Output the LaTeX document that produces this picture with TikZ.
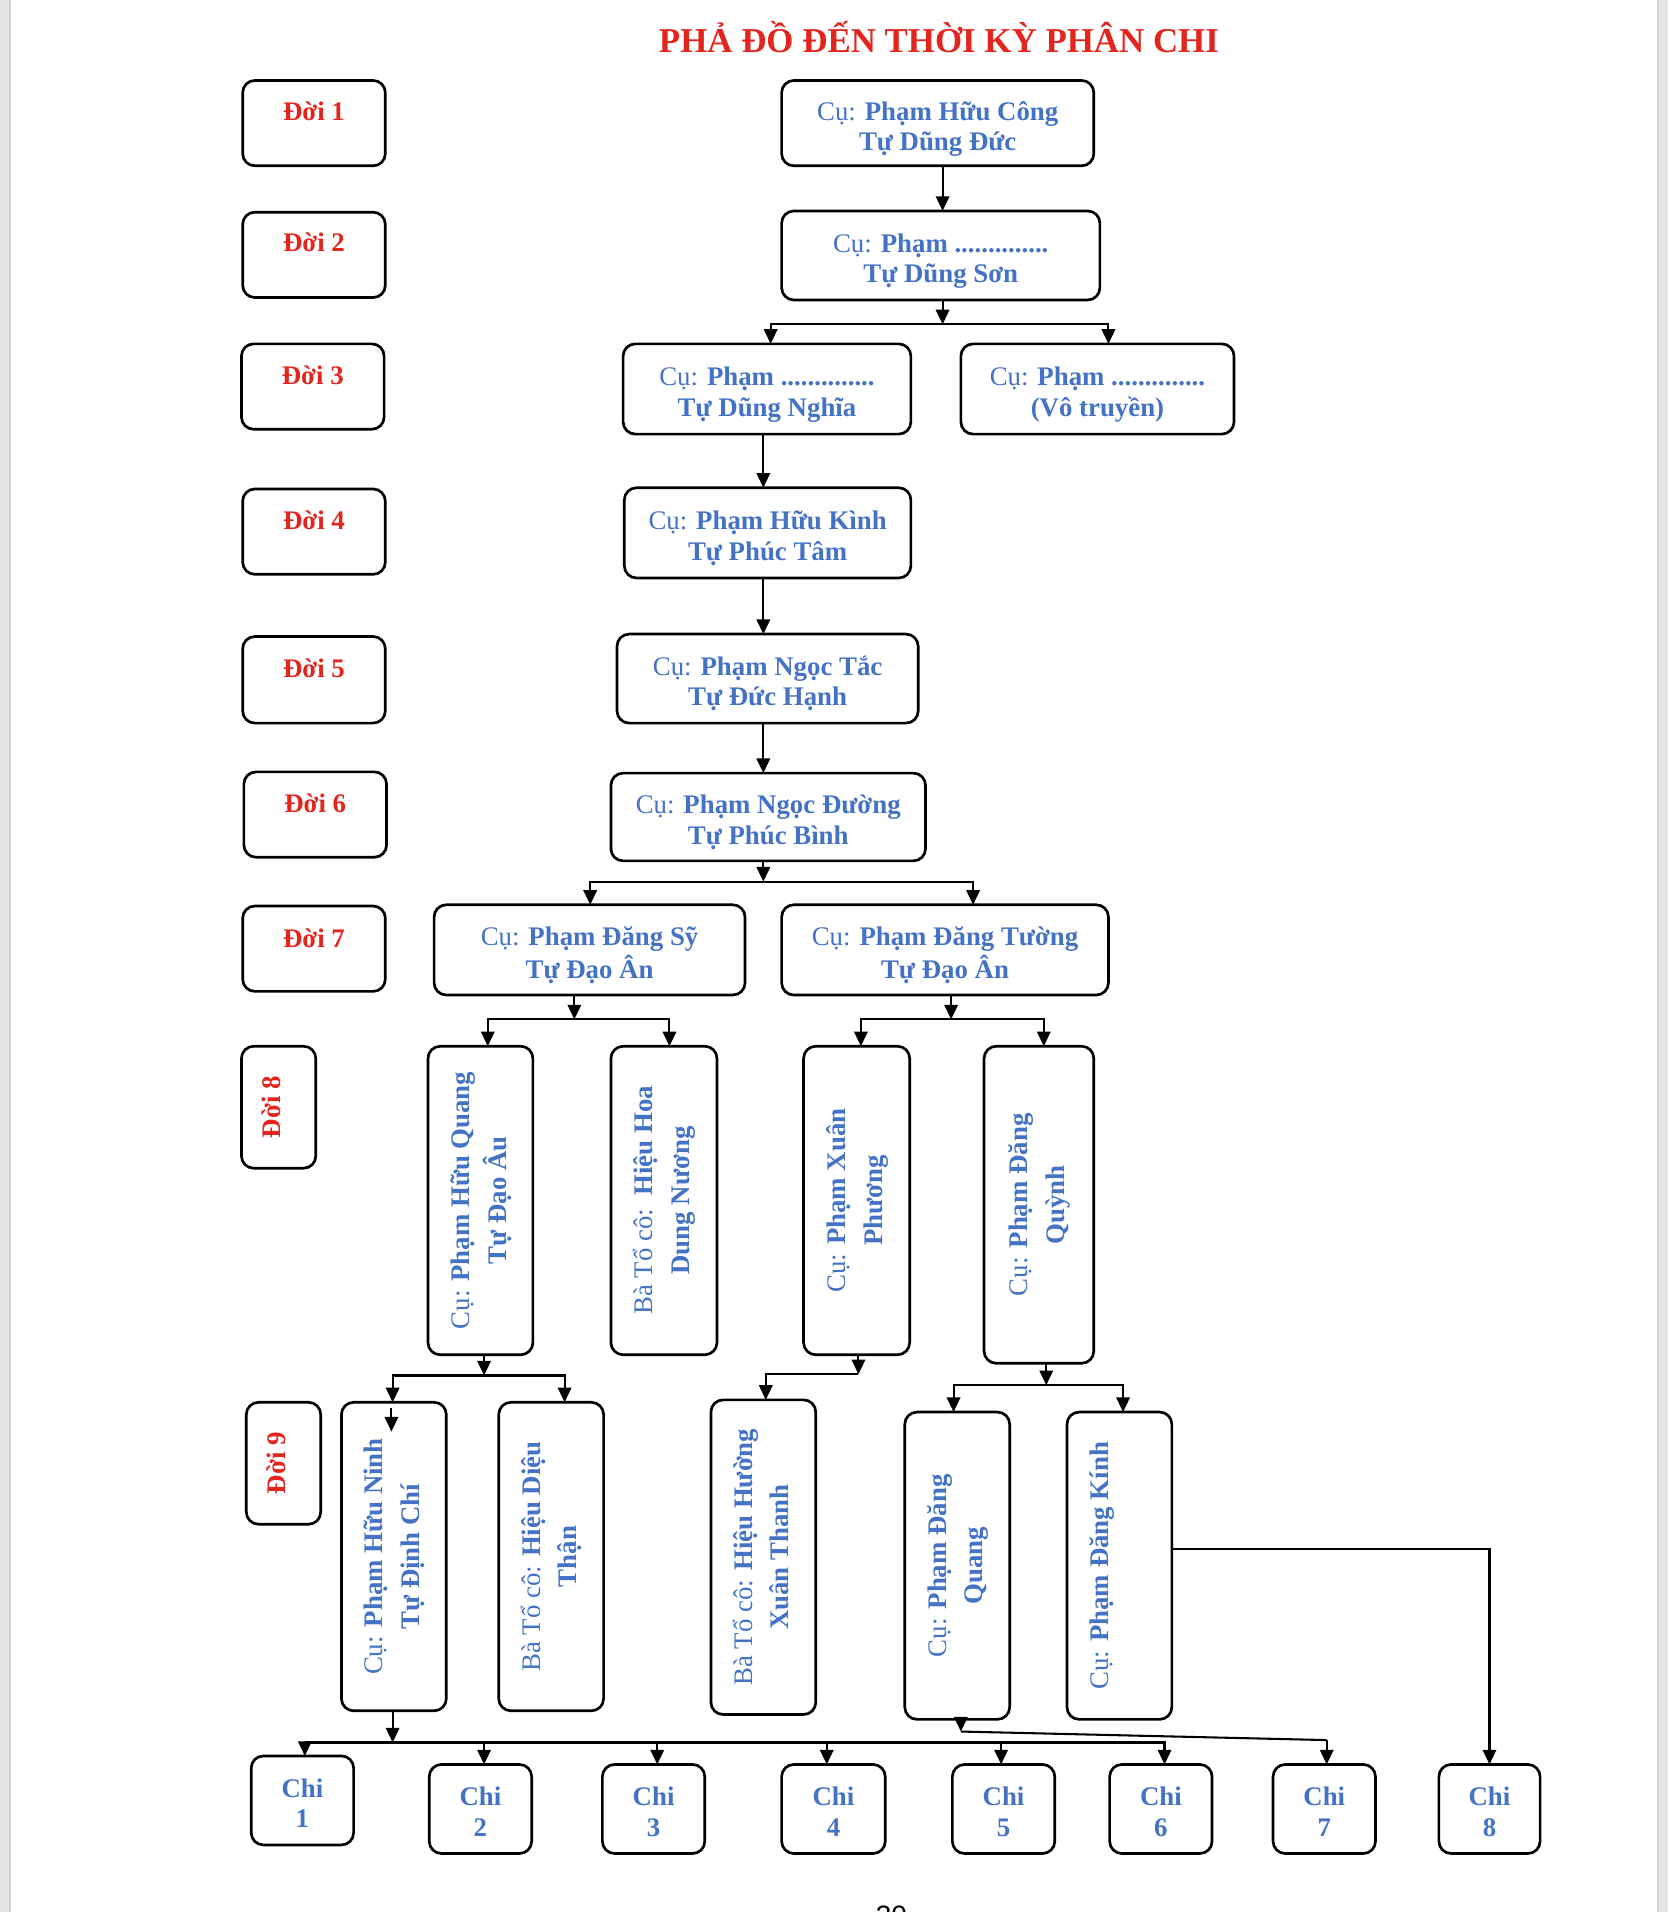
\documentclass[tikz,border=0pt]{standalone}
\usepackage{fontspec}
\setmainfont{Liberation Serif}
\newfontfamily\pgnumfont{Liberation Sans}
\usetikzlibrary{arrows.meta,calc}
\definecolor{blueT}{RGB}{68,114,196}
\definecolor{redT}{RGB}{226,38,30}
\newcommand\vtxt[1]{\rotatebox{90}{\fontsize{11}{15}\selectfont\begin{tabular}{@{}c@{}}#1\end{tabular}}}
\newcommand\htxt[1]{\raisebox{-5.2pt}[0pt][0pt]{\begin{tabular}{@{}c@{}}#1\end{tabular}}}
\begin{document}
\begin{tikzpicture}[x=0.5pt,y=-0.5pt,
  box/.style={draw=black, line width=1.1pt, rounded corners=5pt, fill=white, inner sep=0pt, outer sep=0pt, align=center, text=blueT, font=\fontsize{11}{12.5}\selectfont},
  sz/.style 2 args={minimum width=#1*0.5pt, minimum height=#2*0.5pt},
  arr/.style={line width=0.85pt, -{Triangle[length=6pt,width=5.5pt]}},
  ln/.style={line width=0.85pt},
  doi/.style={text=redT, font=\fontsize{11}{12.5}\selectfont\bfseries, inner sep=0pt},
]
\useasboundingbox (0,0) rectangle (1368,1568);
\fill[white] (0,0) rectangle (1368,1568);
\fill[black!10] (0,0) rectangle (9,1568);
\fill[black!10] (1359,0) rectangle (1368,1568);
\draw[black!18, line width=0.8pt] (8.5,0) -- (8.5,1568);
\draw[black!18, line width=0.8pt] (1359.5,0) -- (1359.5,1568);

% title
\node[anchor=base, text=redT, font=\fontsize{14.3}{16}\selectfont\bfseries, inner sep=0pt] (title) at (770,43) {PHẢ ĐỒ ĐẾN THỜI KỲ PHÂN CHI};

% generation labels
\node[box, sz={117}{70}] (D1) at (257.5,101) {};
\node[box, sz={117}{70}] (D2) at (257.5,209) {};
\node[box, sz={117}{70}] (D3) at (256.5,317) {};
\node[box, sz={117}{70}] (D4) at (257.5,436) {};
\node[box, sz={117}{71}] (D5) at (257.5,557.5) {};
\node[box, sz={117}{70}] (D6) at (258.5,668) {};
\node[box, sz={117}{70}] (D7) at (257.5,778) {};
\node[box, sz={61}{100}] (D8) at (228.5,908) {};
\node[box, sz={61}{100}] (D9) at (232.5,1200) {};
\node[doi, anchor=base] (D1t) at ($(D1.center)+(0,-2)$) {Đời 1};
\node[doi, anchor=base] (D2t) at ($(D2.center)+(0,-3)$) {Đời 2};
\node[doi, anchor=base] (D3t) at ($(D3.center)+(0,-2)$) {Đời 3};
\node[doi, anchor=base] (D4t) at ($(D4.center)+(0,-2)$) {Đời 4};
\node[doi, anchor=base] (D5t) at ($(D5.center)+(0,-2)$) {Đời 5};
\node[doi, anchor=base] (D6t) at ($(D6.center)+(0,-2)$) {Đời 6};
\node[doi, anchor=base] (D7t) at ($(D7.center)+(0,-1)$) {Đời 7};
\node[doi] (D8t) at ($(D8.center)+(-6,0)$) {\rotatebox{90}{Đời 8}};
\node[doi] (D9t) at ($(D9.center)+(-6,0)$) {\rotatebox{90}{Đời 9}};

% main boxes
\node[box, sz={256}{70}] (G1) at (769,101) {\htxt{Cụ: \textbf{Phạm Hữu Công}\\\textbf{Tự Dũng Đức}}};
\node[box, sz={261}{73}] (G2) at (771.5,209.5) {\htxt{Cụ: \textbf{Phạm ..............}\\\textbf{Tự Dũng Sơn}}};
\node[box, sz={236}{74}] (G3a) at (629,319) {\htxt{Cụ: \textbf{Phạm ..............}\\\textbf{Tự Dũng Nghĩa}}};
\node[box, sz={224}{74}] (G3b) at (900,319) {\htxt{Cụ: \textbf{Phạm ..............}\\\textbf{(Vô truyền)}}};
\node[box, sz={235}{74}] (G4) at (629.5,437) {\htxt{Cụ: \textbf{Phạm Hữu Kình}\\\textbf{Tự Phúc Tâm}}};
\node[box, sz={247}{73}] (G5) at (629.5,556.5) {\htxt{Cụ: \textbf{Phạm Ngọc Tắc}\\\textbf{Tự Đức Hạnh}}};
\node[box, sz={258}{72}] (G6) at (630,670) {\htxt{Cụ: \textbf{Phạm Ngọc Đường}\\\textbf{Tự Phúc Bình}}};
\node[box, sz={255}{74}] (G7a) at (483.5,779) {\htxt{Cụ: \textbf{Phạm Đăng Sỹ}\\\textbf{Tự Đạo Ân}}};
\node[box, sz={268}{74}] (G7b) at (775,779) {\htxt{Cụ: \textbf{Phạm Đăng Tường}\\\textbf{Tự Đạo Ân}}};

\node[box, sz={86}{253}] (G8a) at (394,984.5) {\vtxt{Cụ: \textbf{Phạm Hữu Quang}\\\textbf{Tự Đạo Âu}}};
\node[box, sz={87}{253}] (G8b) at (544.5,984.5) {\vtxt{Bà Tổ cô:\ \ \textbf{Hiệu Hoa}\\\textbf{Dung Nương}}};
\node[box, sz={87}{253}] (G8c) at (702.5,984.5) {\vtxt{Cụ: \textbf{Phạm Xuân}\\\textbf{Phương}}};
\node[box, sz={90}{260}] (G8d) at (852,988) {\vtxt{Cụ: \textbf{Phạm Đăng}\\\textbf{Quỳnh}}};

\node[box, sz={86}{253}] (G9a) at (323,1276.5) {\vtxt{Cụ: \textbf{Phạm Hữu Ninh}\\\textbf{Tự Định Chí}}};
\node[box, sz={86}{253}] (G9b) at (452,1276.5) {\vtxt{Bà Tổ cô: \textbf{Hiệu Diệu}\\\textbf{Thận}}};
\node[box, sz={86}{258}] (G9c) at (626,1277) {\vtxt{Bà Tổ cô: \textbf{Hiệu Hường}\\\textbf{Xuân Thanh}}};
\node[box, sz={86}{252}] (G9d) at (785,1284) {\vtxt{Cụ: \textbf{Phạm Đăng}\\\textbf{Quang}}};
\node[box, sz={86}{252}] (G9e) at (918,1284) {\vtxt{Cụ: \textbf{Phạm Đăng Kính}\\\mbox{}}};

% branches
\node[box, sz={84}{73}] (C1) at (248,1476.5) {\htxt{\textbf{Chi}\\\textbf{1}}};
\node[box, sz={84}{73}] (C2) at (394,1483.5) {\htxt{\textbf{Chi}\\\textbf{2}}};
\node[box, sz={84}{73}] (C3) at (536,1483.5) {\htxt{\textbf{Chi}\\\textbf{3}}};
\node[box, sz={85}{73}] (C4) at (683.5,1483.5) {\htxt{\textbf{Chi}\\\textbf{4}}};
\node[box, sz={84}{73}] (C5) at (823,1483.5) {\htxt{\textbf{Chi}\\\textbf{5}}};
\node[box, sz={84}{73}] (C6) at (952,1483.5) {\htxt{\textbf{Chi}\\\textbf{6}}};
\node[box, sz={84}{73}] (C7) at (1086,1483.5) {\htxt{\textbf{Chi}\\\textbf{7}}};
\node[box, sz={83}{73}] (C8) at (1221.5,1483.5) {\htxt{\textbf{Chi}\\\textbf{8}}};

% junction coordinates
\coordinate (cx) at (626,0);
\coordinate (j2) at (773,266);
\coordinate (j6) at (626,723);
\coordinate (j7a) at (471,836);
\coordinate (j7b) at (780,836);
\coordinate (j8a) at (397,1128);
\coordinate (j8c) at (704,1127);
\coordinate (j8d) at (858,1136);
\coordinate (jb) at (322,1429);
\coordinate (k1) at (788,1420);
\coordinate (k2) at (1088,1427);
\coordinate (s1) at (321,1155);
\coordinate (s2) at (321,1174);

% connectors
\draw[arr] (G1.south -| j2) -- (G2.north -| j2);
\draw[arr] (G2.south -| j2) -- (j2);
\draw[arr] (j2) -| ([xshift=1.5pt]G3a.north);
\draw[arr] (j2) -| ([xshift=4.5pt]G3b.north);
\draw[arr] (G3a.south -| cx) -- (G4.north -| cx);
\draw[arr] (G4.south -| cx) -- (G5.north -| cx);
\draw[arr] (G5.south -| cx) -- (G6.north -| cx);
\draw[arr] (G6.south -| j6) -- (j6);
\draw[arr] (j6) -| ([xshift=0.25pt]G7a.north);
\draw[arr] (j6) -| ([xshift=11.5pt]G7b.north);
\draw[arr] (G7a.south -| j7a) -- (j7a);
\draw[arr] (j7a) -| ([xshift=3pt]G8a.north);
\draw[arr] (j7a) -| ([xshift=2.25pt]G8b.north);
\draw[arr] (G7b.south -| j7b) -- (j7b);
\draw[arr] (j7b) -| ([xshift=1.75pt]G8c.north);
\draw[arr] (j7b) -| ([xshift=2pt]G8d.north);
\draw[arr] (G8a.south -| j8a) -- (j8a);
\draw[arr] (j8a) -| ([xshift=-0.5pt]G9a.north);
\draw[arr] (j8a) -| ([xshift=5.5pt]G9b.north);
\draw[arr] (s1) -- (s2);
\draw[arr] (G8c.south -| j8c) -- (j8c);
\draw[arr] (j8c) -| ([xshift=1pt]G9c.north);
\draw[arr] (G8d.south -| j8d) -- (j8d);
\draw[arr] (j8d) -| ([xshift=-1.5pt]G9d.north);
\draw[arr] (j8d) -| ([xshift=1.5pt]G9e.north);
\draw[arr] ([yshift=7pt]G9e.east) -| (C8.north);
\draw[arr] (G9a.south -| jb) -- (jb);
\draw[arr] (jb) -| ([xshift=1pt]C1.north);
\draw[arr] (jb) -| ([xshift=1.5pt]C2.north);
\draw[arr] (jb) -| ([xshift=1.5pt]C3.north);
\draw[arr] (jb) -| ([xshift=-2.75pt]C4.north);
\draw[arr] (jb) -| ([xshift=-1pt]C5.north);
\draw[arr] (jb) -| ([xshift=1.5pt]C6.north);
\draw[arr] (G9d.south -| k1) -- (k1);
\draw[ln] (k1) -- (k2);
\draw[arr] (k2) -- (k2 |- C7.north);

% page number (cut by the page edge, as in the reference)
\begin{scope}
\clip (0,0) rectangle (1368,1568);
\node[anchor=north, inner sep=0pt, font=\pgnumfont\fontsize{11.5}{12}\selectfont] (pg) at (731,1563) {30};
\end{scope}
\end{tikzpicture}
\end{document}
